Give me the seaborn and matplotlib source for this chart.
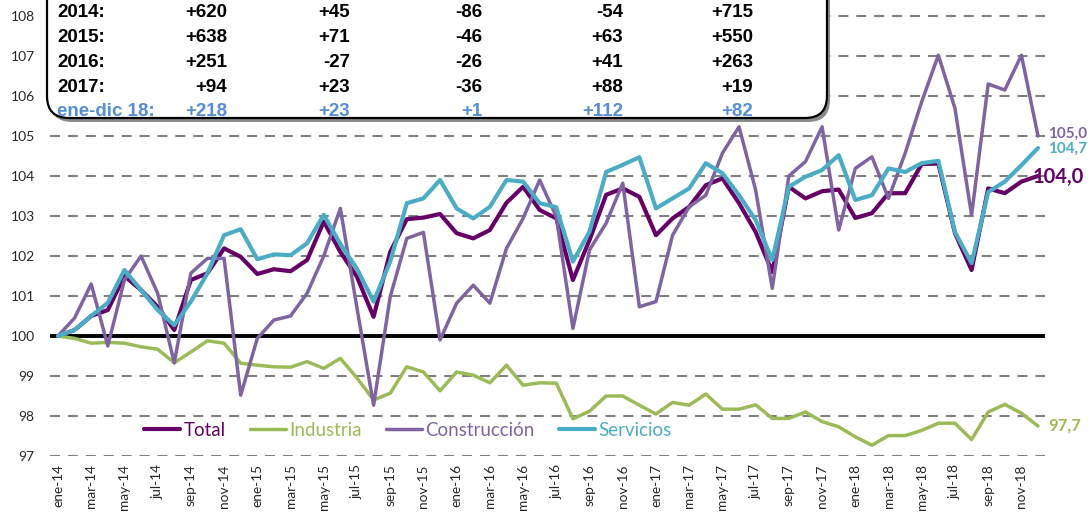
import numpy as np
import pandas as pd
import matplotlib
matplotlib.use('Agg')
import matplotlib.pyplot as plt
import seaborn as sns
from matplotlib.patches import FancyBboxPatch
from matplotlib.transforms import IdentityTransform
from matplotlib import font_manager

# Monthly indices (ene-14 = 100)
months_es = ['ene', 'feb', 'mar', 'abr', 'may', 'jun', 'jul', 'ago', 'sep', 'oct', 'nov', 'dic']
periods = [f'{m}-{y}' for y in range(14, 19) for m in months_es]

total = [100.0, 100.15, 100.5, 100.65, 101.5, 101.15, 100.73, 100.15, 101.4, 101.57,
         102.19, 101.98, 101.55, 101.67, 101.62, 101.9, 102.86, 102.1, 101.48, 100.48,
         102.1, 102.92, 102.96, 103.05, 102.57, 102.44, 102.65, 103.33, 103.73, 103.15,
         102.94, 101.4, 102.4, 103.53, 103.69, 103.48, 102.52, 102.94, 103.23, 103.77,
         103.94, 103.32, 102.6, 101.6, 103.73, 103.44, 103.62, 103.66, 102.95, 103.07,
         103.57, 103.57, 104.3, 104.31, 102.57, 101.65, 103.69, 103.57, 103.86, 104.0]

industria = [100.0, 99.94, 99.82, 99.84, 99.82, 99.73, 99.67, 99.33, 99.6, 99.88,
             99.82, 99.32, 99.27, 99.23, 99.22, 99.36, 99.19, 99.44, 98.95, 98.4,
             98.57, 99.23, 99.1, 98.63, 99.1, 99.02, 98.83, 99.27, 98.77, 98.83,
             98.82, 97.93, 98.12, 98.5, 98.5, 98.27, 98.05, 98.34, 98.27, 98.55,
             98.17, 98.17, 98.28, 97.94, 97.94, 98.1, 97.86, 97.73, 97.48, 97.27,
             97.51, 97.51, 97.64, 97.82, 97.82, 97.41, 98.1, 98.29, 98.07, 97.75]

construccion = [100.0, 100.45, 101.3, 99.75, 101.4, 102.0, 101.07, 99.33, 101.57, 101.94,
                101.94, 98.52, 99.94, 100.4, 100.5, 101.07, 102.0, 103.19, 100.7, 98.27,
                100.98, 102.44, 102.59, 99.9, 100.82, 101.27, 100.82, 102.19, 102.94, 103.9,
                102.98, 100.19, 102.15, 102.82, 103.82, 100.73, 100.86, 102.52, 103.23, 103.52,
                104.57, 105.23, 103.65, 101.19, 104.0, 104.36, 105.23, 102.65, 104.19, 104.48,
                103.44, 104.57, 105.86, 107.02, 105.69, 103.02, 106.3, 106.15, 107.02, 105.0]

servicios = [100.0, 100.15, 100.5, 100.83, 101.65, 101.15, 100.65, 100.27, 100.86, 101.57,
             102.52, 102.67, 101.92, 102.04, 102.02, 102.32, 103.03, 102.3, 101.68, 100.86,
             101.86, 103.32, 103.44, 103.9, 103.19, 102.94, 103.23, 103.9, 103.86, 103.32,
             103.22, 101.86, 102.61, 104.1, 104.28, 104.47, 103.19, 103.44, 103.69, 104.32,
             104.07, 103.52, 102.9, 101.9, 103.73, 103.98, 104.15, 104.52, 103.4, 103.52,
             104.19, 104.1, 104.32, 104.38, 102.6, 101.82, 103.6, 103.86, 104.27, 104.7]

# Summary table (variation, thousands)
row_labels = ['2014:', '2015:', '2016:', '2017:', 'ene-dic 18:']
col_total = ['+620', '+638', '+251', '+94', '+218']
col_industria = ['+45', '+71', '-27', '+23', '+23']
col_construccion = ['-86', '-46', '-26', '-36', '+1']
col_servicios = ['-54', '+63', '+41', '+88', '+112']
col_otros = ['+715', '+550', '+263', '+19', '+82']

end_labels = ['104,0', '97,7', '105,0', '104,7']

series_names = ['Total', 'Industria', 'Construcción', 'Servicios']
colors = {'Total': '#660066', 'Industria': '#9BBB59',
          'Construcción': '#8064A2', 'Servicios': '#4BACC6'}
widths = {'Total': 3.0, 'Industria': 2.5, 'Construcción': 2.5, 'Servicios': 3.0}

df = pd.DataFrame({'idx': np.arange(len(periods)), 'Total': total, 'Industria': industria,
                   'Construcción': construccion, 'Servicios': servicios})
long = df.melt(id_vars='idx', var_name='serie', value_name='indice')

sns.set_style('white')
names = {f.name for f in font_manager.fontManager.ttflist}
narrow = 'Liberation Sans Narrow' if 'Liberation Sans Narrow' in names else 'Liberation Sans'
box_size = 15 if narrow == 'Liberation Sans Narrow' else 13.5
plt.rcParams['font.family'] = ['Lato', 'DejaVu Sans']

W, H = 1088, 512
fig = plt.figure(figsize=(W / 100, H / 100), dpi=100)
ax = fig.add_axes([50 / W, 56 / H, 995 / W, 480 / H])

for name in series_names:
    sub = long[long['serie'] == name]
    sns.lineplot(data=sub, x='idx', y='indice', ax=ax, color=colors[name],
                 linewidth=widths[name], label=name, zorder=3)

ax.axhline(100, color='black', linewidth=2.8, zorder=2)
ax.set_ylim(97, 109)
ax.set_xlim(-0.48, 59.42)
ax.set_yticks(range(97, 109))
ax.grid(axis='y', color='#808080', linestyle=(0, (4.8, 3.8)), linewidth=1.5)
ax.grid(axis='x', visible=False)
ax.set_xticks(range(0, 60, 2))
ax.set_xticklabels(periods[::2], rotation=90, fontsize=9.8, color='#262626')
ax.tick_params(axis='y', labelsize=10, pad=11, length=0, labelcolor='#262626')
ax.tick_params(axis='x', pad=6, length=0)
ax.set_xlabel('')
ax.set_ylabel('')
for s in ax.spines.values():
    s.set_visible(False)

# End-of-series labels
ax.text(58.65, 103.98, end_labels[0], color=colors['Total'], fontsize=14.5, fontweight='bold',
        va='center', ha='left', clip_on=False)
ax.text(59.62, 97.75, end_labels[1], color=colors['Industria'], fontsize=12, fontweight='bold',
        va='center', ha='left', clip_on=False)
ax.text(59.6, 105.05, end_labels[2], color=colors['Construcción'], fontsize=11, fontweight='bold',
        va='center', ha='left', clip_on=False)
ax.text(59.6, 104.68, end_labels[3], color=colors['Servicios'], fontsize=11, fontweight='bold',
        va='center', ha='left', clip_on=False)

handles, labels = ax.get_legend_handles_labels()
ax.legend(handles, labels, ncol=4, frameon=False, loc='center',
          bbox_to_anchor=(408 / W, 82 / H), bbox_transform=fig.transFigure,
          labelcolor='linecolor', handlelength=1.9, handletextpad=0.2,
          columnspacing=1.3, prop={'family': 'Lato', 'size': 13.5})

# Summary box
ident = IdentityTransform()
shadow = FancyBboxPatch((50, 390), 780, 200, boxstyle='round,pad=0,rounding_size=22',
                        transform=ident, facecolor='#8a8a8a', edgecolor='none', zorder=4)
box = FancyBboxPatch((47, 394), 780, 200, boxstyle='round,pad=0,rounding_size=22',
                     transform=ident, facecolor='white', edgecolor='black', linewidth=1.6, zorder=5)
fig.add_artist(shadow)
fig.add_artist(box)

baselines = [17.3, 42.0, 66.7, 91.5, 116.5]
col_right = [227, 350, 482, 623, 753]
cols = [col_total, col_industria, col_construccion, col_servicios, col_otros]
for r, lab in enumerate(row_labels):
    c = '#558ED5' if r == len(row_labels) - 1 else 'black'
    y = H - baselines[r]
    fig.text(57, y, lab, transform=ident, family=narrow, fontsize=box_size, fontweight='bold',
             color=c, ha='left', va='baseline', zorder=6)
    for k, col in enumerate(cols):
        fig.text(col_right[k], y, col[r], transform=ident, family=narrow, fontsize=box_size,
                 fontweight='bold', color=c, ha='right', va='baseline', zorder=6)

fig.savefig('out.png', dpi=100)
